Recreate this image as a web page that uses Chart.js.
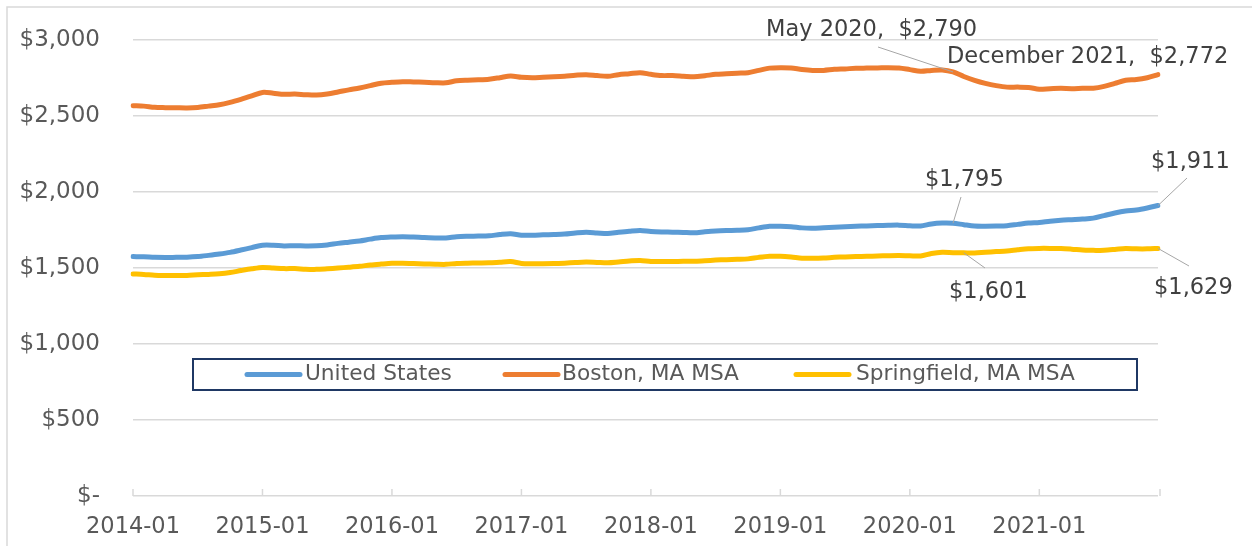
<!DOCTYPE html>
<html lang="en">
<head>
  <meta charset="UTF-8">
  <title>Median Rent</title>
  <script src="https://cdn.jsdelivr.net/npm/chart.js"></script>
  <style>
    * { margin: 0; padding: 0; box-sizing: border-box; }
    body { background: #fff; width: 1252px; height: 546px; overflow: hidden; }
    canvas { display: block; }
  </style>
</head>
<body>
  <canvas id="rentChart" width="1252" height="546"></canvas>

  <script>
    // monthly, 2014-01 .. 2021-12
    const years = [2014, 2015, 2016, 2017, 2018, 2019, 2020, 2021];
    const months = [];
    years.forEach(y => {
      for (let m = 1; m <= 12; m++) months.push(y + '-' + String(m).padStart(2, '0'));
    });

    const seriesNames = ['United States', 'Boston, MA MSA', 'Springfield, MA MSA'];
    const seriesColors = ['#5B9BD5', '#ED7D31', '#FFC000'];

    const usRent = [
      1575, 1574, 1570, 1569, 1570, 1571, 1575, 1583, 1592, 1603, 1618, 1634,
      1650, 1650, 1645, 1647, 1645, 1646, 1652, 1662, 1670, 1678, 1690, 1700,
      1704, 1706, 1704, 1700, 1698, 1697, 1706, 1709, 1710, 1712, 1720, 1725,
      1716, 1716, 1718, 1720, 1723, 1730, 1735, 1731, 1727, 1735, 1742, 1747,
      1740, 1737, 1736, 1734, 1732, 1738, 1743, 1746, 1748, 1752, 1764, 1774,
      1775, 1772, 1764, 1762, 1765, 1768, 1771, 1774, 1777, 1779, 1781, 1782,
      1778, 1776, 1790, 1796, 1795, 1785, 1776, 1775, 1776, 1778, 1787, 1796,
      1800, 1808, 1814, 1818, 1822, 1828, 1845, 1862, 1875, 1882, 1895, 1911
    ];
    const bostonRent = [
      2568, 2565, 2557, 2555, 2554, 2553, 2556, 2565, 2574, 2590, 2610, 2632,
      2655, 2650, 2643, 2644, 2640, 2638, 2645, 2658, 2672, 2684, 2700, 2716,
      2722, 2726, 2724, 2722, 2719, 2718, 2732, 2736, 2738, 2742, 2752, 2763,
      2755, 2752, 2755, 2758, 2762, 2768, 2772, 2766, 2761, 2772, 2778, 2785,
      2774, 2766, 2766, 2762, 2758, 2765, 2774, 2778, 2782, 2785, 2800, 2815,
      2818, 2816, 2806, 2800, 2800, 2807, 2810, 2814, 2815, 2816, 2818, 2816,
      2805, 2794, 2800, 2803, 2790, 2760, 2735, 2715, 2700, 2690, 2690, 2688,
      2676, 2680, 2682, 2680, 2682, 2683, 2695, 2715, 2735, 2740, 2752, 2772
    ];
    const springfieldRent = [
      1461, 1458, 1453, 1451, 1450, 1451, 1455, 1458, 1462, 1470, 1483, 1495,
      1504, 1500, 1496, 1496, 1492, 1491, 1495, 1500, 1505, 1511, 1520, 1526,
      1531, 1532, 1530, 1527, 1525, 1524, 1530, 1532, 1533, 1534, 1538, 1542,
      1530, 1528, 1528, 1529, 1532, 1536, 1539, 1537, 1535, 1540, 1546, 1550,
      1543, 1542, 1543, 1544, 1544, 1548, 1552, 1555, 1557, 1560, 1570, 1577,
      1577, 1572, 1564, 1564, 1566, 1570, 1573, 1575, 1577, 1579, 1581, 1582,
      1580, 1579, 1595, 1603, 1601, 1600, 1599, 1604, 1608, 1612, 1620, 1627,
      1629, 1629, 1628, 1624, 1619, 1616, 1617, 1622, 1628, 1626, 1626, 1629
    ];
    const seriesData = [usRent, bostonRent, springfieldRent];

    const yTicks = [0, 500, 1000, 1500, 2000, 2500, 3000];

    // callouts: [series, text, text x, baseline y, leader start (or null), leader target index]
    const callouts = [
      [1, 'May 2020,  $2,790', 766, 36, [878, 47], 76],
      [1, 'December 2021,  $2,772', 947, 63, null, 95],
      [0, '$1,795', 925, 186, [961, 197], 76],
      [0, '$1,911', 1151, 168, [1187, 178], 95],
      [2, '$1,601', 949, 298, [985, 268], 77],
      [2, '$1,629', 1154, 294, [1189, 266], 95]
    ];

    const FONT = "'DejaVu Sans', sans-serif";
    const fmt = v => v === 0 ? '$-' : '$' + v.toLocaleString('en-US');

    const decor = {
      id: 'decor',
      beforeDraw(chart) {
        const ctx = chart.ctx;
        ctx.save();
        ctx.strokeStyle = '#d9d9d9';
        ctx.lineWidth = 1.5;
        ctx.strokeRect(7, 7, 1300, 600);
        ctx.restore();
      },
      afterDraw(chart) {
        const ctx = chart.ctx;
        const xs = chart.scales.x, ys = chart.scales.y;
        const base = ys.getPixelForValue(0);
        ctx.save();

        // year tick marks (inside)
        ctx.strokeStyle = '#d9d9d9';
        ctx.lineWidth = 1.5;
        for (let i = 0; i < months.length; i += 12) {
          const x = xs.getPixelForValue(i);
          ctx.beginPath(); ctx.moveTo(x, base); ctx.lineTo(x, base - 7); ctx.stroke();
        }
        ctx.beginPath(); ctx.moveTo(chart.chartArea.right + 2, base); ctx.lineTo(chart.chartArea.right + 2, base - 7); ctx.stroke();

        // legend box
        const lx = 193, ly = 359, lw = 944, lh = 31;
        ctx.fillStyle = '#fff';
        ctx.fillRect(lx, ly, lw, lh);
        ctx.strokeStyle = '#1F3864';
        ctx.lineWidth = 2;
        ctx.strokeRect(lx, ly, lw, lh);
        const items = [[247, 305], [505, 562], [796, 856]];
        ctx.font = '21.7px ' + FONT;
        ctx.textBaseline = 'middle';
        ctx.lineCap = 'round';
        items.forEach(([sx, tx], k) => {
          ctx.strokeStyle = seriesColors[k];
          ctx.lineWidth = 5;
          ctx.beginPath(); ctx.moveTo(sx, ly + lh / 2); ctx.lineTo(sx + 53, ly + lh / 2); ctx.stroke();
          ctx.fillStyle = '#595959';
          ctx.fillText(seriesNames[k], tx, ly + lh / 2);
        });

        // data callouts
        ctx.lineCap = 'butt';
        ctx.textBaseline = 'alphabetic';
        callouts.forEach(([s, text, tx, ty, from, target]) => {
          if (from) {
            const px = xs.getPixelForValue(target);
            const py = ys.getPixelForValue(seriesData[s][target]);
            ctx.strokeStyle = '#a6a6a6';
            ctx.lineWidth = 1;
            ctx.beginPath(); ctx.moveTo(from[0], from[1]); ctx.lineTo(px, py); ctx.stroke();
          }
          ctx.fillStyle = '#404040';
          ctx.font = '22.5px ' + FONT;
          ctx.fillText(text, tx, ty);
        });
        ctx.restore();
      }
    };

    new Chart(document.getElementById('rentChart'), {
      type: 'line',
      data: {
        labels: months,
        datasets: seriesNames.map((name, k) => ({
          label: name,
          data: seriesData[k],
          borderColor: seriesColors[k],
          backgroundColor: seriesColors[k],
          borderWidth: 5,
          borderCapStyle: 'round',
          borderJoinStyle: 'round',
          pointRadius: 0,
          tension: 0.3
        }))
      },
      options: {
        responsive: false,
        animation: false,
        layout: { padding: { top: 40, right: 94, left: 0, bottom: 0 } },
        plugins: { legend: { display: false }, tooltip: { enabled: false } },
        scales: {
          x: {
            offset: false,
            grid: { display: false, drawTicks: false },
            border: { display: false },
            ticks: {
              autoSkip: false,
              maxRotation: 0,
              padding: 18,
              color: '#595959',
              font: { family: FONT, size: 22.5 },
              callback: (v, i) => i % 12 === 0 ? months[i] : ''
            },
            afterFit: s => { s.height = 50; s.paddingLeft = 0; s.paddingRight = 0; }
          },
          y: {
            min: 0,
            max: 3000,
            afterBuildTicks: s => { s.ticks = yTicks.map(v => ({ value: v })); },
            grid: { color: '#d9d9d9', lineWidth: 1.5, drawTicks: false },
            border: { display: false },
            ticks: {
              padding: 33,
              color: '#595959',
              font: { family: FONT, size: 23 },
              callback: v => fmt(v)
            },
            afterFit: s => { s.width = 133; s.paddingTop = 0; s.paddingBottom = 0; }
          }
        }
      },
      plugins: [decor]
    });
  </script>
</body>
</html>
